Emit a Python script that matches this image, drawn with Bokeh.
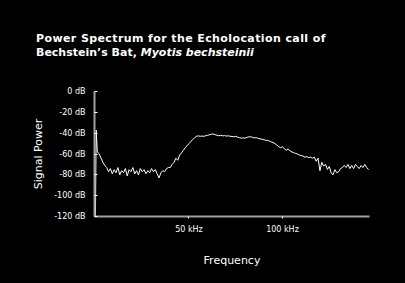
from bokeh.plotting import figure
from bokeh.models import Range1d, FixedTicker, Div
from bokeh.layouts import column
from bokeh.embed import file_html
from bokeh.resources import INLINE

# Frequency in kHz, signal power in dB
freq_khz = [0, 0.4] + list(range(1, 147))
power_db = [-120, -37,
    -58, -60, -64, -68, -71, -73, -77, -74, -79, -75,   # 1-10
    -78, -73, -80, -76, -78, -74, -81, -75, -77, -73,   # 11-20
    -79, -76, -80, -74, -77, -75, -79, -76, -78, -74,   # 21-30
    -77, -75, -79, -83, -78, -76, -77, -74, -73, -73,   # 31-40
    -70, -68, -64, -66, -61, -59, -56.5, -54, -52, -50, # 41-50
    -48, -46, -44.5, -43, -42.6, -43, -42.8, -43, -42.5, -42,  # 51-60
    -41.5, -41, -40.8, -41.5, -42, -42.5, -42, -42.6, -42.3, -42.8,  # 61-70
    -42.5, -43, -43.2, -43.5, -43, -43.8, -44.3, -44.8, -44.5, -44.8,  # 71-80
    -44, -43.5, -43.5, -44, -44.5, -44.3, -45, -45.5, -45.8, -46.2,  # 81-90
    -46.8, -47, -47.5, -48.5, -49, -50, -51.5, -53, -54, -53,  # 91-100
    -55, -56.4, -55, -57, -58, -58.7, -59.5, -60, -61, -61.5,  # 101-110
    -62, -63, -62.5, -63.5, -63, -64, -63, -67, -64, -76,  # 111-120
    -68, -71.6, -70, -74.8, -72, -78, -80, -75, -78, -77,  # 121-130
    -74, -73, -71, -73, -70, -74, -71, -74, -70, -72,  # 131-140
    -74, -71, -73, -70, -73, -75]  # 141-146

y_ticks = [0, -20, -40, -60, -80, -100, -120]
y_tick_labels = ["0 dB", "-20 dB", "-40 dB", "-60 dB", "-80 dB", "-100 dB", "-120 dB"]
x_ticks = [50, 100]
x_tick_labels = ["50 kHz", "100 kHz"]

title_line1 = "Power Spectrum for the Echolocation call of"
title_line2a = "Bechstein\u2019s Bat, "
title_line2b = "Myotis bechsteinii"

FONT = "DejaVu Sans"
AXIS_GREY = "#a0a0a0"
TITLE_H = 60

title = Div(
    text=('<div style="position:absolute; left:36px; top:32px; white-space:nowrap; '
          'font-family:\'DejaVu Sans\'; font-weight:bold; font-size:11px; '
          'line-height:14px; color:white;">'
          f'<span style="letter-spacing:0.4px">{title_line1}</span><br>'
          f'{title_line2a}<i>{title_line2b}</i></div>'),
    width=405, height=TITLE_H,
    styles={"background-color": "black", "margin": "0", "padding": "0"})

p = figure(width=405, height=283 - TITLE_H, output_backend="svg", toolbar_location=None,
           x_range=Range1d(-0.5, 146.5), y_range=Range1d(-120, 0),
           min_border_left=94, min_border_right=36, min_border_top=91 - TITLE_H,
           min_border_bottom=67)
p.background_fill_color = None
p.border_fill_color = "black"
p.outline_line_color = None
p.xgrid.visible = False
p.ygrid.visible = False

p.line(freq_khz, power_db, line_color="white", line_width=1)

# axes
p.yaxis.ticker = FixedTicker(ticks=y_ticks)
p.yaxis.major_label_overrides = dict(zip(y_ticks, y_tick_labels))
p.xaxis.ticker = FixedTicker(ticks=x_ticks)
p.xaxis.major_label_overrides = dict(zip(x_ticks, x_tick_labels))
for ax in (p.xaxis, p.yaxis):
    ax.axis_line_color = AXIS_GREY
    ax.axis_line_width = 2
    ax.major_tick_line_color = "white"
    ax.minor_tick_line_color = None
    ax.major_label_text_color = "white"
    ax.major_label_text_font = FONT
    ax.major_label_text_font_size = "8px"
    ax.axis_label_text_color = "white"
    ax.axis_label_text_font = FONT
    ax.axis_label_text_font_size = "11px"
    ax.axis_label_text_font_style = "normal"
p.yaxis.major_tick_in = 3
p.yaxis.major_tick_out = 0
p.xaxis.major_tick_in = 0
p.xaxis.major_tick_out = 2
p.yaxis.major_label_standoff = 9
p.xaxis.major_label_standoff = 6
p.yaxis.axis_label = "Signal Power"
p.xaxis.axis_label = "Frequency"
p.yaxis.axis_label_standoff = 6
p.xaxis.axis_label_standoff = 17

layout = column(title, p, spacing=0, styles={"background-color": "black"})

open("out.html", "w").write(file_html(layout, INLINE))
